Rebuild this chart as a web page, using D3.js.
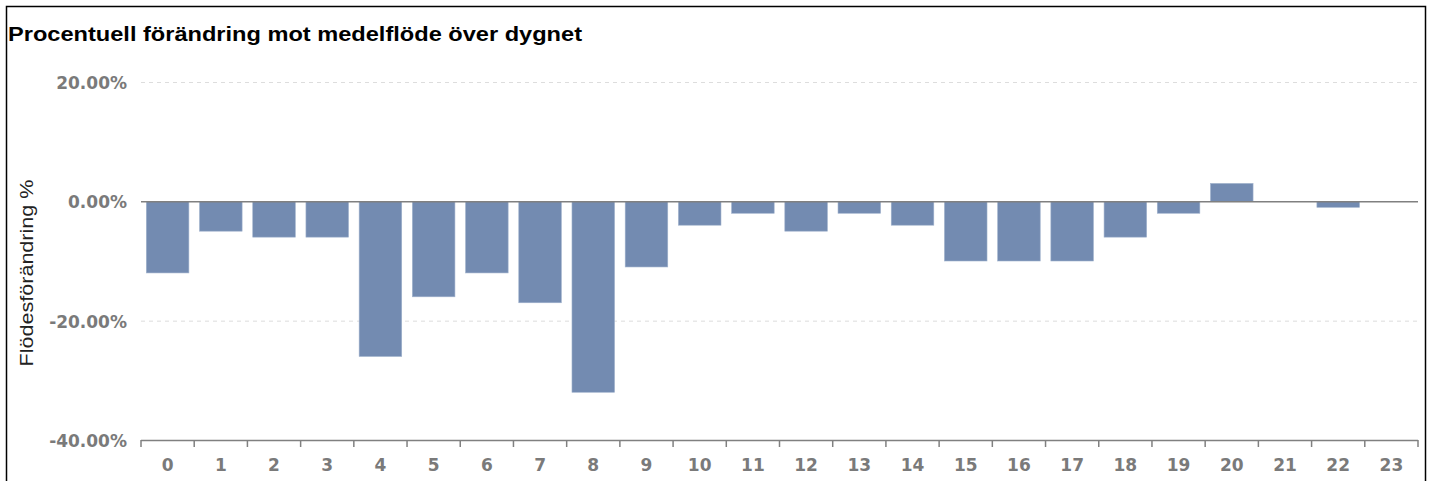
<!DOCTYPE html>
<html><head><meta charset="utf-8">
<script src="https://cdn.jsdelivr.net/npm/d3@7"></script>
<style>body{margin:0;background:#fff;}svg{display:block;}</style>
</head><body>
<script>
const title = "Procentuell förändring mot medelflöde över dygnet";
const yLabel = "Flödesförändring %";
const hours = ["0","1","2","3","4","5","6","7","8","9","10","11","12","13","14","15","16","17","18","19","20","21","22","23"];
const values = [-12,-5,-6,-6,-26,-16,-12,-17,-32,-11,-4,-2,-5,-2,-4,-10,-10,-10,-6,-2,3,0,-1,0];
const yTicks = [20,0,-20,-40];

const W = 1431, H = 481;
const svg = d3.select("body").append("svg").attr("width", W).attr("height", H);
svg.append("rect").attr("x",6.5).attr("y",6.5).attr("width",1419).attr("height",H).attr("fill","#fff").attr("stroke","#000").attr("stroke-width",1.5);

svg.append("text").attr("x",8).attr("y",41).text(title)
  .attr("font-family","Liberation Sans, Arial, sans-serif").attr("font-weight","bold").attr("font-size",20).attr("fill","#000")
  .attr("textLength",574).attr("lengthAdjust","spacingAndGlyphs");

const x = d3.scaleBand().domain(hours).range([141,1418]).paddingInner(0.2).paddingOuter(0.1);
const y = d3.scaleLinear().domain([-40,20]).range([440,82]);

// gridlines
svg.append("g").selectAll("line").data(yTicks.filter(d=>d!==0 && d!==-40)).join("line")
  .attr("x1",141).attr("x2",1418).attr("y1",d=>y(d)+0.5).attr("y2",d=>y(d)+0.5)
  .attr("stroke","#ddd").attr("stroke-dasharray","4,4");

// y tick labels
svg.append("g").selectAll("text").data(yTicks).join("text")
  .attr("x",127).attr("y",d=>y(d)+7).attr("text-anchor","end")
  .attr("font-family","DejaVu Sans, sans-serif").attr("font-weight","bold").attr("font-size",17).attr("fill","#7a7a7a")
  .text(d=>d.toFixed(2)+"%");

// bars
svg.append("g").selectAll("rect").data(values).join("rect")
  .attr("x",(d,i)=>x(hours[i])).attr("width",x.bandwidth())
  .attr("y",d=>y(Math.max(0,d))).attr("height",d=>Math.abs(y(d)-y(0)))
  .attr("fill","#738bb1").attr("stroke","#9fb1cc").attr("stroke-width",0.6);

// zero line
svg.append("line").attr("x1",141).attr("x2",1418).attr("y1",y(0)+0.5).attr("y2",y(0)+0.5).attr("stroke","#808080").attr("stroke-width",1.5);

// x axis
const xAxis = svg.append("g").attr("transform","translate(0,440)");
xAxis.append("line").attr("x1",141).attr("x2",1418).attr("y1",0.5).attr("y2",0.5).attr("stroke","#808080").attr("stroke-width",1.5);
const bounds = d3.range(hours.length+1).map(i=>141 + i*(1277/hours.length));
xAxis.selectAll("line.tk").data(bounds).join("line").attr("class","tk")
  .attr("x1",d=>d).attr("x2",d=>d).attr("y1",0).attr("y2",7).attr("stroke","#808080").attr("stroke-width",1.5);
xAxis.selectAll("text").data(hours).join("text")
  .attr("x",d=>x(d)+x.bandwidth()/2).attr("y",31).attr("text-anchor","middle")
  .attr("font-family","DejaVu Sans, sans-serif").attr("font-weight","bold").attr("font-size",17).attr("fill","#7a7a7a")
  .text(d=>d);

// y label
svg.append("text").attr("transform","translate(33,273) rotate(-90)").attr("text-anchor","middle")
  .attr("font-family","Liberation Sans, Arial, sans-serif").attr("font-size",19).attr("fill","#222")
  .attr("textLength",187).attr("lengthAdjust","spacingAndGlyphs")
  .text(yLabel);
</script>
</body></html>
